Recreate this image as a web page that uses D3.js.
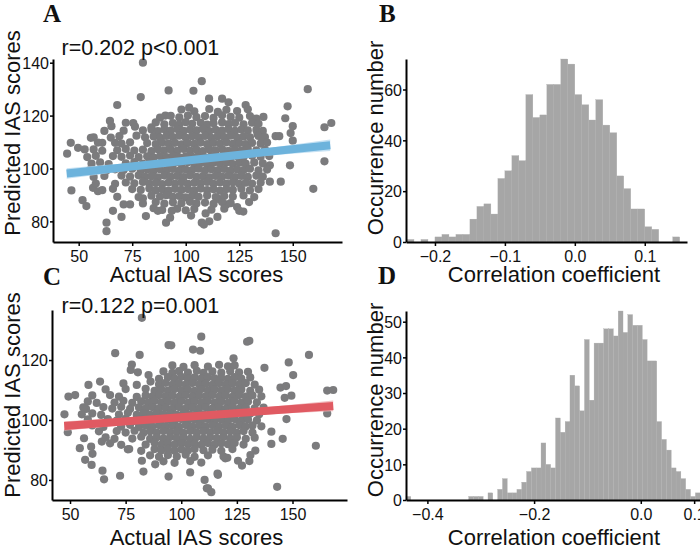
<!DOCTYPE html>
<html><head><meta charset="utf-8">
<script src="https://cdn.jsdelivr.net/npm/d3@7"></script>
<style>body{margin:0;background:#fff} svg{display:block}</style>
</head><body>
<svg id="c" width="700" height="549"></svg>
<script>
// ---------- DATA ----------
// Panel A: [actual, predicted]
const aPoints = [
[80,140],[79,127],[92,129.5],[103.6,129.4],[68,124],[107.5,133],[101.6,123],[90.5,120],[64.6,118],[65.3,116],[75.5,117.2],[76.3,115.8],[84,115.6],[46.3,109.7],[44.6,105.6],[49.7,107.8],[52.8,107.2],[55.7,111.6],[61,109.7],[46.6,91.7],[51.8,88],[53.6,85.8],[56.7,92.7],[59,91.4],[66,84],[70,81.7],[63,79.5],[63,76.3],[71,86.4],[74,86.4],[80,88.7],[81.4,82],[85,85],[87,84],[90.8,79.5],[92.7,81.4],[93.5,84],[102.5,82.2],[107.5,79.5],
[110.9,126.4],[117,126.4],[120,125],[128,124],[147.6,123.5],[136.3,119.5],[146.5,119],[150,116],[149,113.4],[164.8,115.6],[168,117.2],[142,112.2],[143.7,112.2],[150,110.5],[164.8,102.7],[148.7,101.2],[139.3,101.2],[139.3,95],[144.4,95],[159.6,92.3],[142,75.5],[129.6,87.3],[124,85.4],[125,84],[119,86.4],[109.3,83],[111,80],[108.5,78.8],[114.8,81.7],[157,130],[115.2,88.5],[126.9,83.7],[133.5,113.2],[135.8,110.6],
[98,122.3],[104,121.6],[111,122.5],[115,121.4],[119,122.2],[124,121.7],[129,122.4],
[88,119.2],[93,119.9],[97,119.3],[101,120],[105,119.4],[109,119.8],[113,119.1],[117,120.1],[121,119.5],[125,119.2],[130,119.8],[133,118.9],
[72,117.3],[86,117.4],[90,116.7],[94,117.2],[97,116.6],[100,117.5],[103,116.9],[107,117.3],[110,116.6],[113,117.1],[117,117.4],[120,116.8],[123,117.2],[127,116.7],[131,117.3],[134,116.9],
[62,114.2],[71,114.3],[80,114.4],[84,114.7],[87,114.1],[90,114.8],[93,114.3],[96,114.9],[99,114.2],[102,114.7],[105,114.4],[108,114.9],[111,114.1],[114,114.6],[117,114.3],[120,114.8],[123,114.2],[126,114.7],[129,114.4],[133,114.6],[136,114.2],
[57,111.8],[65,111.7],[69,112.2],[77,112.4],[81,111.8],[85,112.1],[88,111.6],[91,112.3],[94,111.9],[97,112.4],[100,111.7],[103,112.2],[106,111.8],[109,112.3],[112,111.6],[115,112.2],[118,111.9],[121,112.4],[124,111.7],[127,112.1],[130,111.8],[134,112.3],[137,111.9],
[59,109.8],[67,109.7],[70,109.4],[74,109.9],[82,109.6],[86,109.2],[89,109.8],[92,109.4],[95,109.7],[98,109.1],[101,109.6],[104,109.3],[107,109.8],[110,109.2],[113,109.7],[116,109.4],[119,109.9],[122,109.3],[125,109.6],[128,109.2],[131,109.7],[135,109.4],[138,109.8],
[57,107.2],[61,106.7],[68,106.9],[72,107.4],[76,106.8],[80,107.1],[84,106.6],[87,107.3],[90,106.9],[93,107.2],[96,106.7],[99,107.4],[102,106.8],[105,107.1],[108,106.6],[111,107.2],[114,106.9],[117,107.3],[120,106.7],[123,107.2],[126,106.8],[129,107.4],[133,106.9],[137,107.1],
[54,104.3],[58,104.8],[66,104.7],[70,104.4],[74,104.9],[78,104.3],[82,104.6],[85,104.1],[88,104.7],[91,104.3],[94,104.8],[97,104.2],[100,104.6],[103,104.4],[106,104.9],[109,104.2],[112,104.7],[115,104.3],[118,104.8],[121,104.2],[124,104.6],[127,104.3],[131,104.8],[135,104.4],[139,104.7],
[56,101.8],[60,102.3],[64,101.7],[72,101.9],[76,102.4],[80,101.8],[83,102.1],[86,101.6],[89,102.3],[92,101.9],[95,102.2],[98,101.7],[101,102.4],[104,101.8],[107,102.1],[110,101.6],[113,102.2],[116,101.9],[119,102.3],[122,101.7],[125,102.2],[128,101.8],[132,102.3],[136,101.9],
[55,99.3],[63,99.2],[67,99.7],[71,99.4],[75,99.9],[79,99.3],[82,99.6],[85,99.1],[88,99.7],[91,99.3],[94,99.8],[97,99.2],[100,99.6],[103,99.4],[106,99.9],[109,99.2],[112,99.7],[115,99.3],[118,99.8],[121,99.2],[124,99.6],[127,99.4],[130,99.9],[134,99.3],[138,99.6],
[57,96.8],[62,97.2],[70,97.3],[74,96.9],[78,97.4],[81,96.8],[84,97.1],[87,96.6],[90,97.3],[93,96.9],[96,97.2],[99,96.7],[102,97.4],[105,96.8],[108,97.1],[111,96.6],[114,97.2],[117,96.9],[120,97.3],[123,96.7],[126,97.2],[129,96.8],[133,97.3],[136,96.9],
[58,94.3],[67,94.2],[72,94.7],[76,94.4],[80,94.9],[83,94.3],[86,94.6],[89,94.1],[92,94.7],[95,94.3],[98,94.8],[101,94.2],[104,94.6],[107,94.4],[110,94.9],[113,94.2],[116,94.7],[119,94.3],[122,94.8],[125,94.2],[128,94.6],[131,94.3],[135,94.7],
[61,91.8],[66,92.3],[75,92.2],[79,91.9],[83,92.4],[86,91.8],[89,92.1],[92,91.6],[95,92.3],[98,91.9],[101,92.2],[104,91.7],[107,92.4],[110,91.8],[113,92.1],[116,91.6],[119,92.2],[122,91.9],[126,92.3],[130,91.7],[134,92.2],
[68,89.3],[78,89.2],[84,89.7],[88,89.4],[91,89.9],[94,89.3],[97,89.6],[100,89.1],[103,89.7],[106,89.3],[110,89.8],[114,89.2],[118,89.6],[122,89.4],[127,89.8],[132,89.2],
[80,86.8],[86,87.3],[90,86.7],[94,87.2],[98,86.9],[102,87.4],[105,86.8],[109,87.1],[113,86.6],[117,87.3],[121,86.9],
[89,84.3],[96,84.8],[100,84.2],[104,84.7],[112,84.4],[118,84.8]
];
// Panel C: [actual, predicted]
const cPoints = [
[82.3,134.1],[94.3,125],[70.3,122.3],[81.3,121.7],[109,127.8],[95.5,124.9],[105.3,123.5],[108.5,123.1],[77.8,118.5],[77.3,116.7],[80.5,115.9],[85.3,115],[86.2,112.8],[58.3,111.7],[63.5,112.8],[49.3,107.8],[52.3,108.3],[47.5,101.9],[49,95.9],[57.2,103.7],[55.3,101.9],[56.3,93.9],[54.4,90.6],[56.8,86.7],[59.7,85],[59.5,91.1],[60.1,88.7],[64.3,92.8],[64.6,83.1],[65.3,80.2],[72.5,81.4],[76.6,90.3],[82.3,86.4],[83,82.8],[88.3,85.2],[94.3,81.1],[104,82.5],[110.5,80],[111.5,77.2],[113.5,75.9],[116.3,82.1],[143.1,77.7],[160.5,91.4],
[129.6,126.1],[130.6,126.4],[157.4,121.7],[137.4,117.4],[148.3,119.2],[150.3,115],[144.6,110.8],[147.1,111.3],[146.5,107.4],[149.5,108.1],[165.6,109.8],[168.3,110],[165.6,102.2],[147.3,100.3],[140.5,96.1],[145.6,93.7],[140.5,92],[133.3,89.8],[131.1,88.3],[130.6,86.3],[127.3,84.8],[125.5,86.4],[119.8,87.2],[120.7,87.4],[116.5,81.7],[112,77.2],[123.5,120.6],
[96,118.2],[101,117.7],[106,118.3],[112,117.8],[117,118.4],[121,117.9],[124,118.2],
[92,116.2],[96,115.7],[99,116.3],[103,115.8],[107,116.4],[110,115.7],[114,116.2],[118,115.8],[122,116.3],[126,115.9],[130,116.1],
[90,113.7],[94,114.3],[97,113.8],[100,114.4],[103,113.7],[106,114.2],[109,113.8],[112,114.3],[115,113.9],[118,114.1],[121,113.7],[124,114.3],[127,113.8],[131,114.2],
[74,112.2],[80,111.7],[90,111.8],[93,112.4],[96,111.7],[99,112.2],[102,111.8],[105,112.3],[108,111.9],[111,112.1],[114,111.7],[117,112.3],[120,111.8],[123,112.2],[126,111.9],[129,112.3],[133,111.8],
[66,110.2],[75,110.3],[84,110.4],[88,109.7],[91,110.2],[94,109.8],[97,110.3],[100,109.9],[103,110.1],[106,109.7],[109,110.3],[112,109.8],[115,110.2],[118,109.9],[121,110.3],[124,109.8],[127,110.2],[131,109.7],[135,110.1],
[60,108.2],[68,108.3],[72,107.8],[80,107.7],[84,108.2],[87,107.8],[90,108.3],[93,107.9],[96,108.1],[99,107.7],[102,108.3],[105,107.8],[108,108.2],[111,107.9],[114,108.3],[117,107.8],[120,108.2],[123,107.7],[126,108.3],[129,107.8],[132,108.2],[136,107.9],
[58,106.2],[62,105.7],[70,105.8],[74,106.4],[78,105.7],[82,106.2],[85,105.8],[88,106.3],[91,105.9],[94,106.1],[97,105.7],[100,106.3],[103,105.8],[106,106.2],[109,105.9],[112,106.3],[115,105.8],[118,106.2],[121,105.7],[124,106.3],[127,105.8],[130,106.2],[134,105.9],
[56,104.2],[65,104.3],[69,103.8],[73,104.4],[77,103.7],[81,104.2],[84,103.8],[87,104.3],[90,103.9],[93,104.1],[96,103.7],[99,104.3],[102,103.8],[105,104.2],[108,103.9],[111,104.3],[114,103.8],[117,104.2],[120,103.7],[123,104.3],[126,103.8],[129,104.2],[133,103.9],[137,104.1],
[60,102.2],[64,101.7],[72,101.8],[76,102.4],[80,101.7],[83,102.2],[86,101.8],[89,102.3],[92,101.9],[95,102.1],[98,101.7],[101,102.3],[104,101.8],[107,102.2],[110,101.9],[113,102.3],[116,101.8],[119,102.2],[122,101.7],[125,102.3],[128,101.8],[131,102.2],[135,101.9],
[58,100.2],[67,100.3],[71,99.8],[75,100.4],[79,99.7],[82,100.2],[85,99.8],[88,100.3],[91,99.9],[94,100.1],[97,99.7],[100,100.3],[103,99.8],[106,100.2],[109,99.9],[112,100.3],[115,99.8],[118,100.2],[121,99.7],[124,100.3],[127,99.8],[130,100.2],[134,99.9],
[60,98.2],[65,97.7],[73,97.8],[77,98.4],[81,97.7],[84,98.2],[87,97.8],[90,98.3],[93,97.9],[96,98.1],[99,97.7],[102,98.3],[105,97.8],[108,98.2],[111,97.9],[114,98.3],[117,97.8],[120,98.2],[123,97.7],[126,98.3],[129,97.8],[132,98.2],[136,97.9],
[63,96.2],[71,96.3],[75,95.8],[79,96.4],[83,95.7],[86,96.2],[89,95.8],[92,96.3],[95,95.9],[98,96.1],[101,95.7],[104,96.3],[107,95.8],[110,96.2],[113,95.9],[116,96.3],[119,95.8],[122,96.2],[125,95.7],[128,96.3],[132,95.8],
[66,94.2],[70,93.7],[78,93.8],[82,94.4],[86,93.7],[89,94.2],[92,93.8],[95,94.3],[98,93.9],[101,94.1],[104,93.7],[107,94.3],[110,93.8],[113,94.2],[116,93.9],[119,94.3],[122,93.8],[125,94.2],[129,93.7],[133,94.1],
[68,92.2],[73,91.7],[84,91.8],[88,92.4],[91,91.7],[94,92.2],[97,91.8],[100,92.3],[103,91.9],[106,92.1],[109,91.7],[112,92.3],[115,91.8],[118,92.2],[121,91.9],[124,92.3],[128,91.8],
[76,90.2],[82,89.7],[88,90.3],[91,89.8],[94,90.4],[97,89.7],[100,90.2],[103,89.8],[106,90.3],[110,89.9],[114,90.1],[118,89.7],[123,90.3],
[86,88.2],[90,87.7],[94,88.3],[98,87.8],[102,88.4],[106,87.7],[112,88.2],[119,87.8],
[92,86.2],[97,85.7],[104,86.3],[109,85.8]
];
// regression fits (actual -> predicted) with confidence half-widths
const aFitX = [44.4, 105, 167.5];
const aFitY = [98.1, 103.4, 108.8];
const aFitCI = [2.0, 1.0, 2.2];
const cFitX = [47.4, 107, 168.3];
const cFitY = [98.0, 101.3, 104.7];
const cFitCI = [1.6, 0.9, 1.8];
const aStat = "r=0.202 p<0.001";
const cStat = "r=0.122 p=0.001";

// Panel B histogram
const bStart = -0.24, bWidth = 0.01;
const bCounts = [1,0,1,0,2,3,2,3,3,9,14,15,11,25,28,34,32,58,49,50,62,62,72,70,58,54,48,56,46,43,26,21,13,13,6,5,0,0,2,0];
// Panel D histogram
const dStart = -0.4401, dWidth = 0.00904;
const dCounts = [1,0,0,0,0,0,0,0,0,0,0,0,0,1,1,1,0,2,0,3,6,2,2,3,5,8,9,9,16,10,9,23,19,22,35,32,25,45,28,44,44,48,48,46,53,47,52,49,49,45,39,39,22,17,14,9,8,6,3,1,2];

const scatterTicksX = [50, 75, 100, 125, 150];
const aTicksY = [80, 100, 120, 140];
const cTicksY = [80, 100, 120];
const bTicksX = [-0.2, -0.1, 0.0, 0.1];
const bTicksY = [0, 20, 40, 60];
const dTicksX = [-0.4, -0.2, 0.0, 0.1];
const dTicksY = [0, 10, 20, 30, 40, 50];

// ---------- DRAW ----------
const svg = d3.select("#c");
const FONT = "'Liberation Sans', Arial, Helvetica, sans-serif";
const SERIF = "'Liberation Serif', 'Times New Roman', serif";
const PT = "#7b7b7d";

function styleAxis(g) {
  g.select(".domain").attr("stroke", "#000").attr("stroke-width", 2);
  g.selectAll(".tick line").attr("stroke", "#000").attr("stroke-width", 1.5);
  g.selectAll(".tick text").attr("font-family", FONT).attr("font-size", 16).attr("fill", "#111");
}

function axes(cfg) {
  const {x, y, L, R, T, B, xt, yt, xfmt, yfmt} = cfg;
  const gx = svg.append("g").attr("transform", `translate(0,${B})`)
    .call(d3.axisBottom(x).tickValues(xt).tickFormat(xfmt).tickSize(4).tickSizeOuter(0).tickPadding(5));
  styleAxis(gx);
  const gy = svg.append("g").attr("transform", `translate(${L},0)`)
    .call(d3.axisLeft(y).tickValues(yt).tickFormat(yfmt).tickSize(3).tickSizeOuter(0).tickPadding(1));
  styleAxis(gy);
  gy.selectAll(".tick text").attr("dy", "0.36em");
}

function label(txt, x, y, rot, size) {
  const t = svg.append("text").text(txt)
    .attr("font-family", FONT).attr("font-size", size || 22).attr("fill", "#111")
    .attr("text-anchor", "middle");
  if (rot) t.attr("transform", `translate(${x},${y}) rotate(-90)`);
  else t.attr("x", x).attr("y", y);
}
function letter(txt, x, y) {
  svg.append("text").text(txt).attr("x", x).attr("y", y)
    .attr("font-family", SERIF).attr("font-weight", "bold").attr("font-size", 25).attr("fill", "#111");
}

function scatterPanel(pts, fx, fy, fci, stat, L, R, T, B, xd, yd, yt, col, band, lbly, xlbly, statY) {
  const x = d3.scaleLinear().domain(xd).range([L, R]);
  const y = d3.scaleLinear().domain(yd).range([B, T]);
  svg.append("g").selectAll("circle").data(pts).join("circle")
    .attr("cx", d => x(d[0])).attr("cy", d => y(d[1])).attr("r", 4.1).attr("fill", PT);
  const idx = d3.range(fx.length);
  svg.append("path").datum(idx)
    .attr("d", d3.area().x(i => x(fx[i])).y0(i => y(fy[i] - fci[i])).y1(i => y(fy[i] + fci[i])).curve(d3.curveMonotoneX))
    .attr("fill", band).attr("opacity", 0.8);
  svg.append("path").datum(idx)
    .attr("d", d3.line().x(i => x(fx[i])).y(i => y(fy[i])))
    .attr("stroke", col).attr("stroke-width", 8).attr("fill", "none");
  axes({x, y, L, R, T, B, xt: scatterTicksX, yt, xfmt: d3.format("d"), yfmt: d3.format("d")});
  svg.append("text").text(stat).attr("x", 61.5).attr("y", statY)
    .attr("font-family", FONT).attr("font-size", 21.5).attr("fill", "#111");
  label("Predicted IAS scores", 19.5, lbly, true);
  label("Actual IAS scores", 196.5, xlbly);
}

function histPanel(start, w, counts, L, R, T, B, xd, yd, xt, yt, lbly, xlbly) {
  const x = d3.scaleLinear().domain(xd).range([L, R]);
  const y = d3.scaleLinear().domain(yd).range([B, T]);
  svg.append("g").selectAll("rect").data(counts).join("rect")
    .attr("x", (d, i) => x(start + i * w))
    .attr("width", (d, i) => x(start + (i + 1) * w) - x(start + i * w))
    .attr("y", d => y(d)).attr("height", d => B - y(d))
    .attr("fill", "#a6a6a6").attr("stroke", "#adadad").attr("stroke-width", 0.3);
  axes({x, y, L, R, T, B, xt, yt, xfmt: d3.format(".1f"), yfmt: d3.format("d")});
  label("Occurrence number", 383, lbly, true);
  label("Correlation coefficient", 554, xlbly);
}

scatterPanel(aPoints, aFitX, aFitY, aFitCI, aStat, 53, 342, 59, 242, [38, 173], [72.2, 141.4], aTicksY,
  "#6db3dc", "#b6daf0", 133, 282, 55);
scatterPanel(cPoints, cFitX, cFitY, cFitCI, cStat, 52, 347, 310, 500, [41.9, 174.5], [73.3, 136.7], cTicksY,
  "#e05a62", "#eeb0b3", 395, 545, 313);
histPanel(bStart, bWidth, bCounts, 406, 687, 59, 242, [-0.2414, 0.1604], [0, 72], bTicksX, bTicksY, 138, 282);
histPanel(dStart, dWidth, dCounts, 406, 700, 311, 500, [-0.4401, 0.111], [0, 53], dTicksX, dTicksY, 400, 545);

letter("A", 43, 22);
letter("B", 379, 22);
letter("C", 43, 285);
letter("D", 378, 284);
</script>
</body></html>
